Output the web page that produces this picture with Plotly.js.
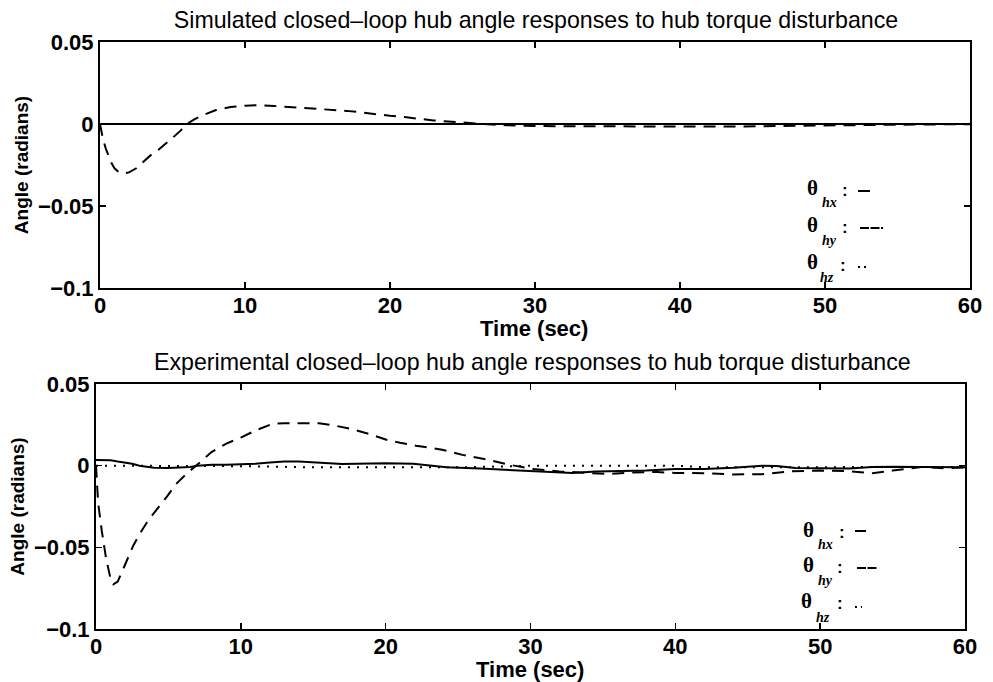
<!DOCTYPE html>
<html>
<head>
<meta charset="utf-8">
<script src="https://cdn.plot.ly/plotly-3.0.1.min.js"></script>
<style>html,body{margin:0;padding:0;background:#fff;}#chart{width:993px;height:682px;}</style>
</head>
<body>
<div id="chart"></div>
<script>
// ---------- DATA ----------
// Simulated (top panel)
var tSimY = [0, 0.1, 0.2, 0.4, 0.6, 0.8, 1.0, 1.3, 1.6, 2.0, 2.5, 3.0, 3.5, 4.0, 4.5, 5.0, 5.5, 6.0, 6.5, 7.0, 8.0, 9.0, 10, 11, 12, 13, 14, 15, 16, 17, 18, 19, 20, 21, 22, 23, 24, 25, 26, 27, 28, 29, 30, 32, 34, 36, 38, 40, 42, 44, 46, 48, 50, 52, 54, 56, 58, 60];
var simHy = [0, -0.005, -0.009, -0.015, -0.020, -0.024, -0.027, -0.0293, -0.0302, -0.0295, -0.027, -0.0228, -0.019, -0.016, -0.0125, -0.0085, -0.0045, 0.0, 0.0028, 0.005, 0.0085, 0.0103, 0.0112, 0.0115, 0.0110, 0.0104, 0.0099, 0.0094, 0.0087, 0.0080, 0.0071, 0.0059, 0.0050, 0.0042, 0.0030, 0.0022, 0.0015, 0.0008, 0.0002, -0.0003, -0.0007, -0.0010, -0.0012, -0.0014, -0.0015, -0.0015, -0.0015, -0.0015, -0.0015, -0.0015, -0.0014, -0.0012, -0.0010, -0.0007, -0.0005, -0.0003, -0.0002, -0.0001];
var tSimFlat = [0, 10, 20, 30, 40, 50, 60];
var simHx = [0, 0, 0, 0, 0, 0, 0];
var simHz = [0, 0, 0, 0, 0, 0, 0];

// Experimental (bottom panel)
var tExpY = [0, 0.05, 0.15, 0.4, 0.7, 1.0, 1.2, 1.5, 2.0, 2.57, 3.0, 3.5, 4.0, 4.87, 5.5, 6.25, 7.17, 8, 9, 10, 11, 12.2, 13, 14, 15.4, 16.5, 17.7, 19, 20, 21, 22.1, 23.9, 25.3, 27, 28.4, 30.1, 32, 34, 35.4, 37, 38.5, 40, 42, 44, 46, 48, 50, 52, 53.6, 55, 57, 58.7, 60];
var expHy = [0, -0.010, -0.023, -0.040, -0.057, -0.069, -0.0726, -0.071, -0.061, -0.049, -0.042, -0.035, -0.029, -0.0193, -0.0115, -0.0049, 0.002, 0.0085, 0.0135, 0.0172, 0.0215, 0.0257, 0.026, 0.026, 0.026, 0.0245, 0.0223, 0.019, 0.016, 0.014, 0.0122, 0.0098, 0.0066, 0.0037, 0.0008, -0.002, -0.0035, -0.0045, -0.005, -0.0042, -0.0038, -0.0045, -0.0046, -0.0054, -0.0052, -0.0035, -0.003, -0.0034, -0.0046, -0.003, -0.0008, -0.0016, -0.001];
var tExpX = [0, 0.5, 1, 1.5, 2, 2.5, 3, 3.5, 4, 5, 6, 6.5, 7, 8, 9, 10, 11, 12, 13, 14, 15, 16, 17, 18, 20, 21.9, 23, 24.2, 26.5, 28.8, 31.1, 32.9, 34.5, 36, 38, 40, 42, 44, 46, 47, 48.3, 50, 52, 53.6, 55, 57, 58.7, 60];
var expHx = [0.0035, 0.0035, 0.0033, 0.0025, 0.002, 0.0012, 0.0, -0.0005, -0.0012, -0.0014, -0.0012, -0.0008, 0.0, 0.0005, 0.0005, 0.0008, 0.0012, 0.002, 0.0025, 0.0025, 0.002, 0.0015, 0.001, 0.0012, 0.0015, 0.0012, 0.0, -0.001, -0.0018, -0.0028, -0.0035, -0.0045, -0.0035, -0.0032, -0.003, -0.002, -0.002, -0.0013, 0.0, -0.0002, -0.0014, -0.0016, -0.0018, -0.0008, -0.0006, -0.0008, -0.001, -0.001];
var tExpZ = [0, 5, 10, 15, 20, 25, 28, 30, 35, 40, 42, 45, 50, 55, 60];
var expHz = [0, 0, -0.0003, -0.001, -0.001, -0.001, -0.0005, 0.0, 0.0, 0.0, -0.001, -0.001, -0.0012, -0.0008, -0.0008];

// Axis ticks and labels
var xTickVals = [0, 10, 20, 30, 40, 50, 60];
var xTickText = ['0', '10', '20', '30', '40', '50', '60'];
var yTickVals = [-0.1, -0.05, 0, 0.05];
var yTickText = ['\u22120.1', '\u22120.05', '0', '0.05'];

var titleTop = 'Simulated closed\u2013loop hub angle responses to hub torque disturbance';
var titleBottom = 'Experimental closed\u2013loop hub angle responses to hub torque disturbance';
var xTitle = 'Time (sec)';
var yTitle = 'Angle (radians)';
var legendSubs = ['hx', 'hy', 'hz'];

// ---------- LAYOUT ----------
var W = 993, H = 682;
function px(x) { return x / W; }
function py(y) { return 1 - y / H; }
var FONT = 'Liberation Sans, Arial, Helvetica, sans-serif';
var SERIF = 'Liberation Serif, Times New Roman, serif';

var dashStyle = '12px,8px';
var dotStyle = '2px,7px';

var traces = [
  {x: tSimFlat, y: simHz, xaxis: 'x', yaxis: 'y', mode: 'lines', line: {color: '#000', width: 2, dash: dotStyle}},
  {x: tSimY, y: simHy, xaxis: 'x', yaxis: 'y', mode: 'lines', line: {color: '#000', width: 2, dash: dashStyle}},
  {x: tSimFlat, y: simHx, xaxis: 'x', yaxis: 'y', mode: 'lines', line: {color: '#000', width: 2}},
  {x: tExpZ, y: expHz, xaxis: 'x2', yaxis: 'y2', mode: 'lines', line: {color: '#000', width: 2, dash: dotStyle}},
  {x: tExpY, y: expHy, xaxis: 'x2', yaxis: 'y2', mode: 'lines', line: {color: '#000', width: 2, dash: dashStyle}},
  {x: tExpX, y: expHx, xaxis: 'x2', yaxis: 'y2', mode: 'lines', line: {color: '#000', width: 2}}
];
traces.forEach(function (t) { t.showlegend = false; t.hoverinfo = 'skip'; });

function xAxis(domain, anchor) {
  return {
    domain: domain, anchor: anchor, range: [0, 60],
    tickvals: xTickVals, ticktext: xTickText,
    ticks: 'inside', ticklen: 6, tickwidth: 1.5, tickcolor: '#000',
    showline: true, linecolor: '#000', linewidth: 2, mirror: 'ticks',
    showgrid: false, zeroline: false, automargin: false,
    tickfont: {family: FONT, size: 22, color: '#000', weight: 'bold'},
    ticklabelstandoff: -3
  };
}
function yAxis(domain, anchor) {
  return {
    domain: domain, anchor: anchor, range: [-0.1, 0.05],
    tickvals: yTickVals, ticktext: yTickText,
    ticks: 'inside', ticklen: 6, tickwidth: 1.5, tickcolor: '#000',
    showline: true, linecolor: '#000', linewidth: 2, mirror: 'ticks',
    showgrid: false, zeroline: false, automargin: false,
    tickfont: {family: FONT, size: 22, color: '#000', weight: 'bold'},
    ticklabelstandoff: 0,
    title: {text: yTitle, standoff: 4, font: {family: FONT, size: 19, color: '#000', weight: 'bold'}}
  };
}

var annotations = [
  {text: titleBottom, xref: 'paper', yref: 'paper', x: px(532), y: py(362), xanchor: 'center', yanchor: 'middle',
   showarrow: false, font: {family: FONT, size: 23.2, color: '#000'}},
  {text: xTitle, xref: 'paper', yref: 'paper', x: px(534), y: py(328), xanchor: 'center', yanchor: 'middle',
   showarrow: false, font: {family: FONT, size: 22, color: '#000', weight: 'bold'}},
  {text: xTitle, xref: 'paper', yref: 'paper', x: px(530), y: py(669), xanchor: 'center', yanchor: 'middle',
   showarrow: false, font: {family: FONT, size: 22, color: '#000', weight: 'bold'}}
];
var shapes = [];

// legend entries: [thetaX, thetaY, subX, subY, colonX, colonY, lineX0, lineX1, lineY]
var legTop = [
  [812, 188, 829, 203, 845, 191, 858, 870, 191],
  [812, 225, 829, 240, 845, 228, 860, 883, 228],
  [812, 262, 827, 277, 843, 265, 858, 867, 267]
];
var legBot = [
  [808, 530, 825, 544, 842, 532, 855, 866, 531],
  [808, 565, 825, 580, 840, 567, 857, 878, 568],
  [806, 601, 823, 617, 840, 603, 855, 862, 607]
];
var legDash = ['solid', '9px,1.5px', '2px,4px'];
[legTop, legBot].forEach(function (leg) {
  leg.forEach(function (e, i) {
    annotations.push({text: '\u03b8', xref: 'paper', yref: 'paper', x: px(e[0]), y: py(e[1]), xanchor: 'center', yanchor: 'middle',
      showarrow: false, font: {family: SERIF, size: 21, color: '#000', weight: 'bold'}});
    annotations.push({text: '<i>' + legendSubs[i] + '</i>', xref: 'paper', yref: 'paper', x: px(e[2]), y: py(e[3]), xanchor: 'center', yanchor: 'middle',
      showarrow: false, font: {family: SERIF, size: 14, color: '#000', weight: 'bold'}});
    annotations.push({text: ':', xref: 'paper', yref: 'paper', x: px(e[4]), y: py(e[5]), xanchor: 'center', yanchor: 'middle',
      showarrow: false, font: {family: FONT, size: 17, color: '#000', weight: 'bold'}});
    shapes.push({type: 'line', xref: 'paper', yref: 'paper', x0: px(e[6]), x1: px(e[7]), y0: py(e[8]), y1: py(e[8]),
      line: {color: '#000', width: 2, dash: legDash[i]}});
  });
});

var layout = {
  width: W, height: H,
  margin: {l: 0, r: 0, t: 0, b: 0},
  paper_bgcolor: '#fff', plot_bgcolor: '#fff',
  font: {family: FONT, color: '#000'},
  title: {text: titleTop, x: px(536), xref: 'paper', xanchor: 'center', y: py(20), yref: 'container', yanchor: 'middle',
          font: {family: FONT, size: 23.2, color: '#000'}},
  xaxis: xAxis([px(100), px(970)], 'y'),
  yaxis: yAxis([py(288), py(42)], 'x'),
  xaxis2: xAxis([px(96), px(965)], 'y2'),
  yaxis2: yAxis([py(629), py(384)], 'x2'),
  annotations: annotations,
  shapes: shapes,
  showlegend: false
};

Plotly.newPlot('chart', traces, layout, {displayModeBar: false, staticPlot: true});
</script>
</body>
</html>
